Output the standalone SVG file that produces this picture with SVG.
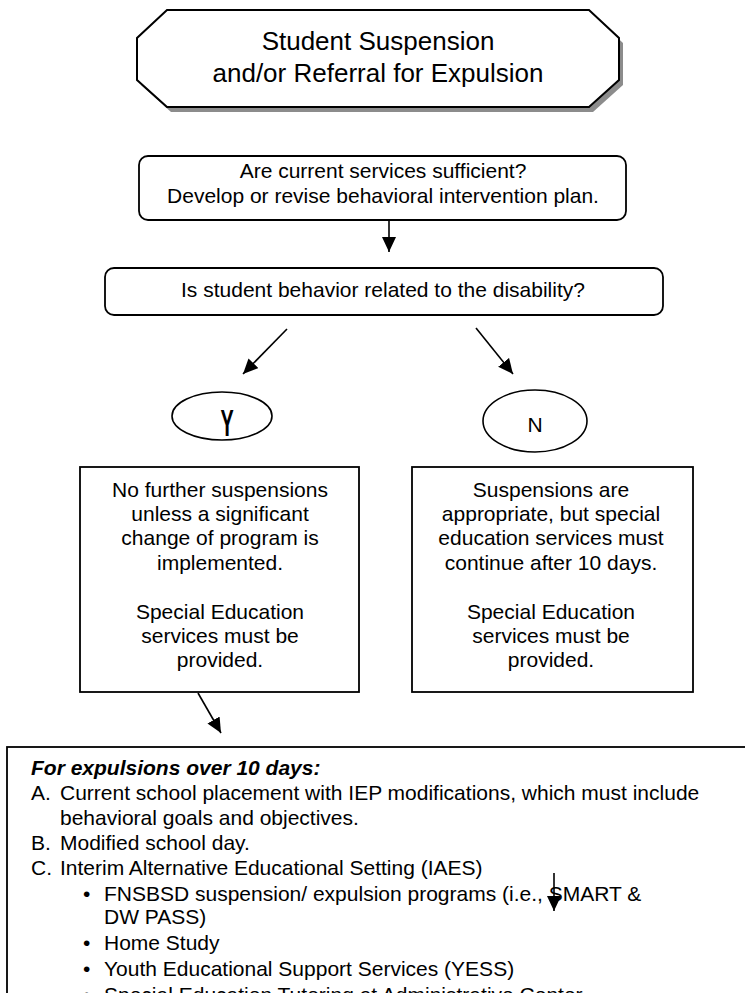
<svg xmlns="http://www.w3.org/2000/svg" width="745" height="993" viewBox="0 0 745 993">
<style>
  text { font-family: "Liberation Sans", Arial, sans-serif; fill: #000; }
  .t21 { font-size: 21px; }
  .mid { text-anchor: middle; }
  .box { fill: #fff; stroke: #000; stroke-width: 1.8; }
  .conn line { stroke: #000; stroke-width: 1.6; marker-end: url(#ah); }
</style>
<defs>
  <marker id="ah" markerWidth="16" markerHeight="16" refX="15" refY="7" orient="auto" markerUnits="userSpaceOnUse">
    <path d="M0,0 L15,7 L0,14 z" fill="#000"/>
  </marker>
</defs>
<rect x="0" y="0" width="745" height="993" fill="#fff"/>

<g id="title">
  <polygon points="171,15 593,15 623,43 623,85 593,112 171,112 141,85 141,43" fill="#8c8c8c"/>
  <polygon points="167,10 589,10 619,38 619,80 589,107 167,107 137,80 137,38" fill="#fff" stroke="#000" stroke-width="2"/>
  <text x="378" y="50" class="mid" font-size="26">Student Suspension</text>
  <text x="378" y="82" class="mid" font-size="26">and/or Referral for Expulsion</text>
</g>

<g id="services">
  <rect x="139" y="156" width="487" height="64" rx="9" class="box"/>
  <text x="383" y="178" class="mid t21">Are current services sufficient?</text>
  <text x="383" y="203" class="mid t21">Develop or revise behavioral intervention plan.</text>
</g>

<g id="related">
  <rect x="105" y="268" width="558" height="47" rx="9" class="box"/>
  <text x="383" y="297" class="mid t21">Is student behavior related to the disability?</text>
</g>

<g id="yes">
  <ellipse cx="222" cy="416" rx="50" ry="24" fill="#fff" stroke="#000" stroke-width="1.6"/>
  <text x="0" y="0" font-size="36" font-weight="bold" class="mid" transform="translate(227,436) scale(0.55,1)">Y</text>
</g>

<g id="no">
  <ellipse cx="535" cy="421" rx="52" ry="31" fill="#fff" stroke="#000" stroke-width="1.6"/>
  <text x="535" y="432" class="mid t21">N</text>
</g>

<g id="yes-result">
  <rect x="80" y="467" width="279" height="225" class="box"/>
  <text x="220" y="497" class="mid t21">No further suspensions</text>
  <text x="220" y="521" class="mid t21">unless a significant</text>
  <text x="220" y="545" class="mid t21">change of program is</text>
  <text x="220" y="570" class="mid t21">implemented.</text>
  <text x="220" y="619" class="mid t21">Special Education</text>
  <text x="220" y="643" class="mid t21">services must be</text>
  <text x="220" y="667" class="mid t21">provided.</text>
</g>

<g id="no-result">
  <rect x="412" y="467" width="281" height="225" class="box"/>
  <text x="551" y="497" class="mid t21">Suspensions are</text>
  <text x="551" y="521" class="mid t21">appropriate, but special</text>
  <text x="551" y="545" class="mid t21">education services must</text>
  <text x="551" y="570" class="mid t21">continue after 10 days.</text>
  <text x="551" y="619" class="mid t21">Special Education</text>
  <text x="551" y="643" class="mid t21">services must be</text>
  <text x="551" y="667" class="mid t21">provided.</text>
</g>

<g id="expulsion">
  <rect x="7" y="747" width="740" height="260" class="box"/>
  <text x="31" y="775" class="t21" font-weight="bold" font-style="italic">For expulsions over 10 days:</text>
  <text x="31" y="800" class="t21">A.</text>
  <text x="60" y="800" class="t21">Current school placement with IEP modifications, which must include</text>
  <text x="60" y="825" class="t21">behavioral goals and objectives.</text>
  <text x="31" y="850" class="t21">B.</text>
  <text x="60" y="850" class="t21">Modified school day.</text>
  <text x="31" y="875" class="t21">C.</text>
  <text x="60" y="875" class="t21">Interim Alternative Educational Setting (IAES)</text>
  <text x="83" y="901" class="t21">•</text>
  <text x="104" y="901" class="t21">FNSBSD suspension/ expulsion programs (i.e., SMART &amp;</text>
  <text x="104" y="924" class="t21">DW PASS)</text>
  <text x="83" y="950" class="t21">•</text>
  <text x="104" y="950" class="t21">Home Study</text>
  <text x="83" y="976" class="t21">•</text>
  <text x="104" y="976" class="t21">Youth Educational Support Services (YESS)</text>
  <text x="83" y="1002" class="t21">•</text>
  <text x="104" y="1002" class="t21">Special Education Tutoring at Administrative Center</text>
</g>

<g id="connectors" class="conn">
  <line x1="389" y1="221" x2="389" y2="252"/>
  <line x1="287" y1="329" x2="243" y2="374"/>
  <line x1="476" y1="328" x2="513" y2="374"/>
  <line x1="198" y1="693" x2="221" y2="733"/>
  <line x1="554" y1="873" x2="554" y2="911"/>
</g>
</svg>
